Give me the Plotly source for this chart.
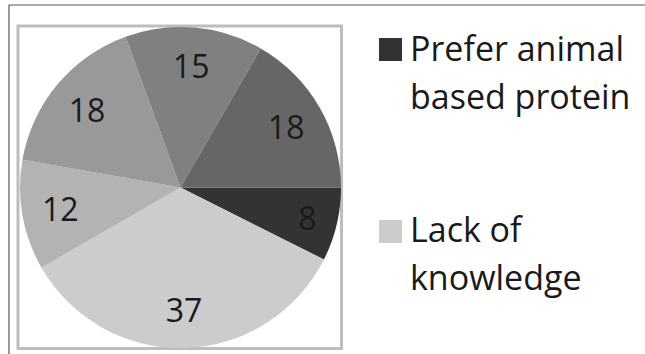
import plotly.graph_objects as go

# ---- data ----
labels = ["Prefer animal based protein", "Lack of knowledge", "Reason 3", "Reason 4", "Reason 5", "Reason 6"]
values = [8, 37, 12, 18, 15, 18]
colors = ["#333333", "#cccccc", "#b3b3b3", "#999999", "#808080", "#666666"]
legend_labels = ["Prefer animal<br>based protein", "Lack of<br>knowledge"]
legend_colors = ["#333333", "#cccccc"]

W, H = 645, 354


def px(x):
    return x / W


def py(y):
    return 1 - y / H


cx, cy, r = 180.5, 187.5, 160.5
dom = dict(x=[px(cx - r), px(cx + r)], y=[py(cy + r), py(cy - r)])

fig = go.Figure()
# filled pie (no text)
fig.add_trace(go.Pie(
    labels=labels,
    values=values,
    marker=dict(colors=colors, line=dict(width=0)),
    sort=False,
    direction="clockwise",
    rotation=90,
    textinfo="none",
    domain=dom,
    showlegend=False,
    hoverinfo="label+value",
))
# transparent ring carrying the value labels at Excel-like radius
fig.add_trace(go.Pie(
    labels=labels,
    values=values,
    hole=0.52,
    marker=dict(colors=["rgba(0,0,0,0)"] * len(values), line=dict(width=0)),
    sort=False,
    direction="clockwise",
    rotation=90,
    textinfo="value",
    textposition="inside",
    insidetextorientation="horizontal",
    textfont=dict(family="Open Sans", size=32, color="#1a1a1a"),
    domain=dom,
    showlegend=False,
    hoverinfo="skip",
))

shapes = [
    # outer dark frame lines (top and left)
    dict(type="line", xref="paper", yref="paper", x0=px(9), x1=px(W + 5), y0=py(5), y1=py(5),
         line=dict(color="#555555", width=1.2)),
    dict(type="line", xref="paper", yref="paper", x0=px(9), x1=px(9), y0=py(5), y1=py(H + 5),
         line=dict(color="#555555", width=1.2)),
    # inner gray plot box
    dict(type="rect", xref="paper", yref="paper", x0=px(18), x1=px(341.5), y0=py(348.5), y1=py(26),
         line=dict(color="#bdbdbd", width=3), layer="below"),
]

annotations = []
sq_tops = [38, 220]
line_centers = [(48, 96), (229, 277)]
for i, (lab, col) in enumerate(zip(legend_labels, legend_colors)):
    shapes.append(dict(type="rect", xref="paper", yref="paper",
                       x0=px(379), x1=px(402), y0=py(sq_tops[i] + 23), y1=py(sq_tops[i]),
                       fillcolor=col, line=dict(width=0)))
    for j, txt in enumerate(lab.split("<br>")):
        annotations.append(dict(xref="paper", yref="paper", x=px(408), y=py(line_centers[i][j]),
                                xanchor="left", yanchor="middle", text=txt, showarrow=False,
                                font=dict(family="Open Sans", size=34, color="#1a1a1a")))

fig.update_layout(
    width=W, height=H,
    margin=dict(l=0, r=0, t=0, b=0),
    paper_bgcolor="white",
    plot_bgcolor="white",
    shapes=shapes,
    annotations=annotations,
)

fig.write_html("out.html")
